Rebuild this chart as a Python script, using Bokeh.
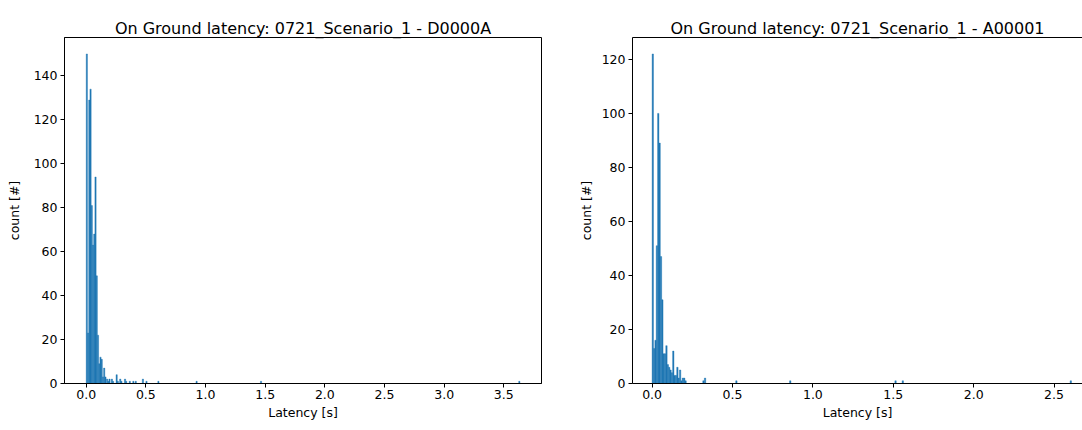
from bokeh.plotting import figure
from bokeh.layouts import row
from bokeh.models import Range1d, SingleIntervalTicker, NumeralTickFormatter, LinearAxis, FixedTicker
from bokeh.embed import file_html
from bokeh.resources import INLINE

# ---------------- data ----------------
# Scenario D0000A: histogram bin width and counts of consecutive bins from 0 s
bin_w_d = 0.0104
counts_d_dense = [150, 23, 129, 134, 81, 63, 68, 94, 49, 22, 9, 12, 11, 3, 7, 3]
# sparse tail bins (bin start latency, count)
tail_d_latency = [0.17, 0.18, 0.19, 0.21, 0.22, 0.25, 0.26, 0.28, 0.29, 0.32,
                  0.33, 0.36, 0.39, 0.41, 0.47, 0.50, 0.60, 0.92, 1.46, 3.625]
tail_d_count = [2, 1, 2, 2, 1, 4, 1, 2, 1, 2, 1, 1, 1, 1, 2, 1, 1, 1, 1, 1]

# Scenario A00001
bin_w_a = 0.0085
counts_a_dense = [122, 13, 16, 51, 100, 89, 47, 31, 11, 11, 14, 7, 6, 5, 4, 12,
                  3, 3, 6, 2, 5, 1, 2, 2, 1]
tail_a_latency = [0.315, 0.325, 0.52, 0.855, 1.51, 1.555, 2.60]
tail_a_count = [1, 2, 1, 1, 1, 1, 1]

x_ticks_d = [0.0, 0.5, 1.0, 1.5, 2.0, 2.5, 3.0, 3.5]
x_ticks_a = [0.0, 0.5, 1.0, 1.5, 2.0, 2.5]

title_d = "On Ground latency: 0721_Scenario_1 - D0000A"
title_a = "On Ground latency: 0721_Scenario_1 - A00001"
x_label = "Latency [s]"
y_label = "count [#]"

BLUE = "#1f77b4"
FONT = "DejaVu Sans"


def bins(counts_dense, w, tail_lat, tail_cnt):
    left = [i * w for i in range(len(counts_dense))] + list(tail_lat)
    right = [l + w for l in left]
    top = list(counts_dense) + list(tail_cnt)
    return left, right, top


def style(p, xticks, ytick_interval, ylabel_standoff, title_standoff):
    p.title.text_font = FONT
    p.title.text_font_size = "16px"
    p.title.text_font_style = "normal"
    p.title.text_color = "#000000"
    p.title.align = "center"
    p.title.standoff = title_standoff
    p.background_fill_color = "white"
    p.border_fill_color = "white"
    p.xgrid.visible = False
    p.ygrid.visible = False
    for ax in (p.xaxis[0], p.yaxis[0]):
        ax.major_label_text_font = FONT
        ax.major_label_text_font_size = "12.5px"
        ax.major_label_text_color = "#000000"
        ax.axis_label_text_font = FONT
        ax.axis_label_text_font_size = "12.5px"
        ax.axis_label_text_font_style = "normal"
        ax.axis_label_text_color = "#000000"
        ax.axis_line_color = "#000000"
        ax.major_tick_line_color = "#000000"
        ax.minor_tick_line_color = None
        ax.major_tick_out = 4
        ax.major_tick_in = 0
    p.xaxis[0].major_label_standoff = 2
    p.xaxis[0].axis_label_standoff = 3
    p.yaxis[0].major_label_standoff = 3
    p.yaxis[0].axis_label_standoff = ylabel_standoff
    p.xaxis[0].ticker = FixedTicker(ticks=xticks)
    p.xaxis[0].formatter = NumeralTickFormatter(format="0.0")
    p.yaxis[0].ticker = SingleIntervalTicker(interval=ytick_interval)
    p.xaxis[0].axis_label = x_label
    p.yaxis[0].axis_label = y_label


# ---------------- left chart ----------------
p1 = figure(width=575, height=430, output_backend="svg", toolbar_location=None,
            title=title_d,
            x_range=Range1d(-0.182, 3.816), y_range=Range1d(0, 157.5),
            min_border_left=64, min_border_right=34, min_border_top=33, min_border_bottom=43)
l, r, t = bins(counts_d_dense, bin_w_d, tail_d_latency, tail_d_count)
p1.quad(left=l, right=r, top=t, bottom=0, fill_color=BLUE, line_color=BLUE, line_width=0.4)
style(p1, x_ticks_d, 20, 9, 0)
p1.outline_line_color = "#000000"
p1.outline_line_alpha = 1.0

# ---------------- right chart (cropped on the right like the reference) ----------------
p2 = figure(width=507, height=430, output_backend="svg", toolbar_location=None,
            title=title_a,
            x_range=Range1d(-0.122, 2.677), y_range=Range1d(0, 128.1),
            min_border_left=53, min_border_right=0, min_border_top=37, min_border_bottom=47)
l, r, t = bins(counts_a_dense, bin_w_a, tail_a_latency, tail_a_count)
p2.quad(left=l, right=r, top=t, bottom=0, fill_color=BLUE, line_color=BLUE, line_width=0.4)
style(p2, x_ticks_a, 20, 5, 0)
p2.outline_line_color = None
top_axis = LinearAxis(ticker=FixedTicker(ticks=[]), major_label_text_font_size="0px",
                      major_tick_out=0, major_tick_in=0, minor_tick_out=0, minor_tick_in=0,
                      major_label_standoff=0, axis_line_color="#000000")
p2.add_layout(top_axis, "above")

layout = row(p1, p2)
open("out.html", "w").write(file_html(layout, INLINE))
